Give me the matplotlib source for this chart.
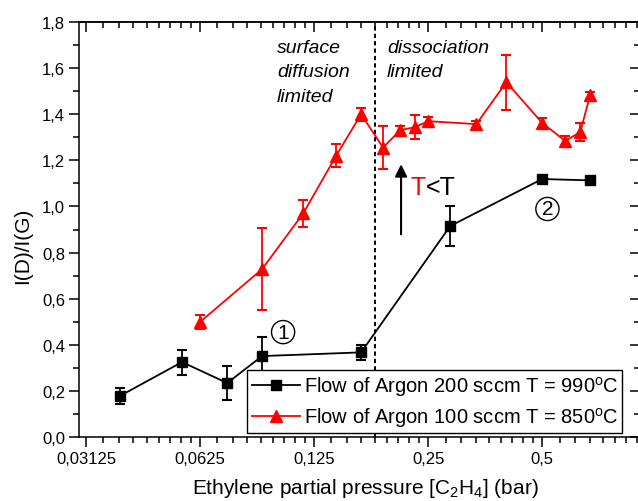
import matplotlib
matplotlib.use("Agg")
import matplotlib.pyplot as plt
from matplotlib.ticker import FixedLocator, FixedFormatter, FuncFormatter, NullFormatter, MultipleLocator

plt.rcParams["font.family"] = ["Liberation Sans", "DejaVu Sans"]
plt.rcParams["mathtext.fontset"] = "custom"
plt.rcParams["mathtext.rm"] = "Liberation Sans"
plt.rcParams["mathtext.it"] = "Liberation Sans:italic"

# Ar 200 sccm, T = 990 C
p_ar200 = [0.0384, 0.0560, 0.0737, 0.0911, 0.1663, 0.2858, 0.500, 0.669]
r_ar200 = [0.178, 0.325, 0.234, 0.351, 0.367, 0.915, 1.119, 1.113]
e_ar200 = [0.036, 0.054, 0.074, 0.082, 0.033, 0.087, 0.015, 0.012]

# Ar 100 sccm, T = 850 C
p_ar100 = [0.0625, 0.0911, 0.117, 0.1429, 0.1663, 0.190, 0.211, 0.231,
           0.25, 0.335, 0.402, 0.500, 0.575, 0.630, 0.669]
r_ar100 = [0.499, 0.728, 0.970, 1.220, 1.400, 1.255, 1.331, 1.344,
           1.370, 1.357, 1.539, 1.362, 1.284, 1.323, 1.483]
e_ar100 = [0.030, 0.178, 0.057, 0.050, 0.028, 0.093, 0.020, 0.052,
           0.020, 0.015, 0.120, 0.020, 0.020, 0.040, 0.015]

xticks = [0.03125, 0.0625, 0.125, 0.25, 0.5]
xticklabels = ["0,03125", "0,0625", "0,125", "0,25", "0,5"]
p_boundary = 0.181

fig = plt.figure(figsize=(6.38, 5.02), dpi=100)
ax = fig.add_axes([79 / 638, 64 / 502, 560.5 / 638, 415 / 502])

l1, = ax.plot(p_ar200, r_ar200, color="black", lw=1.3, marker="s", ms=7,
              label="Flow of Argon 200 sccm T = 990$^{\\mathrm{o}}$C")
ax.errorbar(p_ar200, r_ar200, yerr=e_ar200, fmt="none", ecolor="black",
            elinewidth=1.3, capsize=3.5, capthick=1.5)
l2, = ax.plot(p_ar100, r_ar100, color="red", lw=1.3, marker="^", ms=8,
              label="Flow of Argon 100 sccm T = 850$^{\\mathrm{o}}$C")
ax.errorbar(p_ar100, r_ar100, yerr=e_ar100, fmt="none", ecolor="red",
            elinewidth=1.3, capsize=3.5, capthick=1.5)

ax.axvline(p_boundary, color="black", lw=1.4, ls=(0, (2.2, 1.6)))

ax.set_xscale("log", base=2)
ax.set_xlim(0.02994, 0.903)
ax.set_ylim(0, 1.8)

# minor ticks: each octave split in 9 linear steps
minors = []
for b in [0.015625, 0.03125, 0.0625, 0.125, 0.25, 0.5]:
    for k in range(1, 9):
        minors.append(b * (1 + k / 9))

ax.xaxis.set_major_locator(FixedLocator(xticks))
ax.xaxis.set_major_formatter(FixedFormatter(xticklabels))
ax.xaxis.set_minor_locator(FixedLocator(minors))
ax.xaxis.set_minor_formatter(NullFormatter())
ax.yaxis.set_major_locator(MultipleLocator(0.2))
ax.yaxis.set_minor_locator(MultipleLocator(0.1))
ax.yaxis.set_major_formatter(FuncFormatter(lambda v, pos: f"{v:.1f}".replace(".", ",")))

ax.tick_params(which="major", direction="out", length=7, width=1.1, labelsize=12, pad=3)
ax.tick_params(which="minor", direction="out", length=4, width=1.1)
for s in ax.spines.values():
    s.set_linewidth(1.1)

# ticks pointing inwards on top and right
top = ax.secondary_xaxis("top")
top.xaxis.set_major_locator(FixedLocator(xticks))
top.xaxis.set_minor_locator(FixedLocator(minors))
top.xaxis.set_major_formatter(NullFormatter())
top.xaxis.set_minor_formatter(NullFormatter())
top.tick_params(which="major", direction="in", length=7, width=1.1)
top.tick_params(which="minor", direction="in", length=4, width=1.1)
top.spines["top"].set_linewidth(1.1)

right = ax.secondary_yaxis("right")
right.yaxis.set_major_locator(MultipleLocator(0.2))
right.yaxis.set_minor_locator(MultipleLocator(0.1))
right.yaxis.set_major_formatter(NullFormatter())
right.tick_params(which="major", direction="in", length=7, width=1.1)
right.tick_params(which="minor", direction="in", length=4, width=1.1)

ax.set_xlabel("Ethylene partial pressure [C$_2$H$_4$] (bar)", fontsize=15)
ax.xaxis.set_label_coords(0.511, -0.094)
ax.set_ylabel("I(D)/I(G)", fontsize=15)
ax.yaxis.set_label_coords(-0.084, 0.463)

ax.text(0.0998, 1.725, "surface\ndiffusion\nlimited", style="italic",
        fontsize=14, va="top", ha="left", linespacing=1.55)
ax.text(0.1948, 1.725, "dissociation\nlimited", style="italic",
        fontsize=14, va="top", ha="left", linespacing=1.55)

ax.annotate("", xy=(0.212, 1.195), xytext=(0.212, 0.867),
            arrowprops=dict(arrowstyle="-|>", color="black", lw=1.5, mutation_scale=18))
t1 = ax.text(0.224, 1.054, "T", color="red", fontsize=18, va="baseline")
ax.annotate("<T", xy=(1, 0), xycoords=t1, fontsize=18, va="bottom", color="black")

for xp, yp, s in [(0.1035, 0.455, "1"), (0.516, 0.989, "2")]:
    ax.text(xp, yp, s, fontsize=15, ha="center", va="center",
            bbox=dict(boxstyle="circle,pad=0.1", fc="white", ec="black", lw=1))

ax.legend(handles=[l1, l2], loc="lower right", bbox_to_anchor=(0.9696, 0.0096),
          borderaxespad=0, fontsize=14.5, frameon=True, fancybox=False,
          edgecolor="black", framealpha=1, borderpad=0.2, handlelength=2.4,
          handletextpad=0.2, labelspacing=0.35, numpoints=1).get_frame().set_linewidth(1)

fig.savefig("out.png", dpi=100)
